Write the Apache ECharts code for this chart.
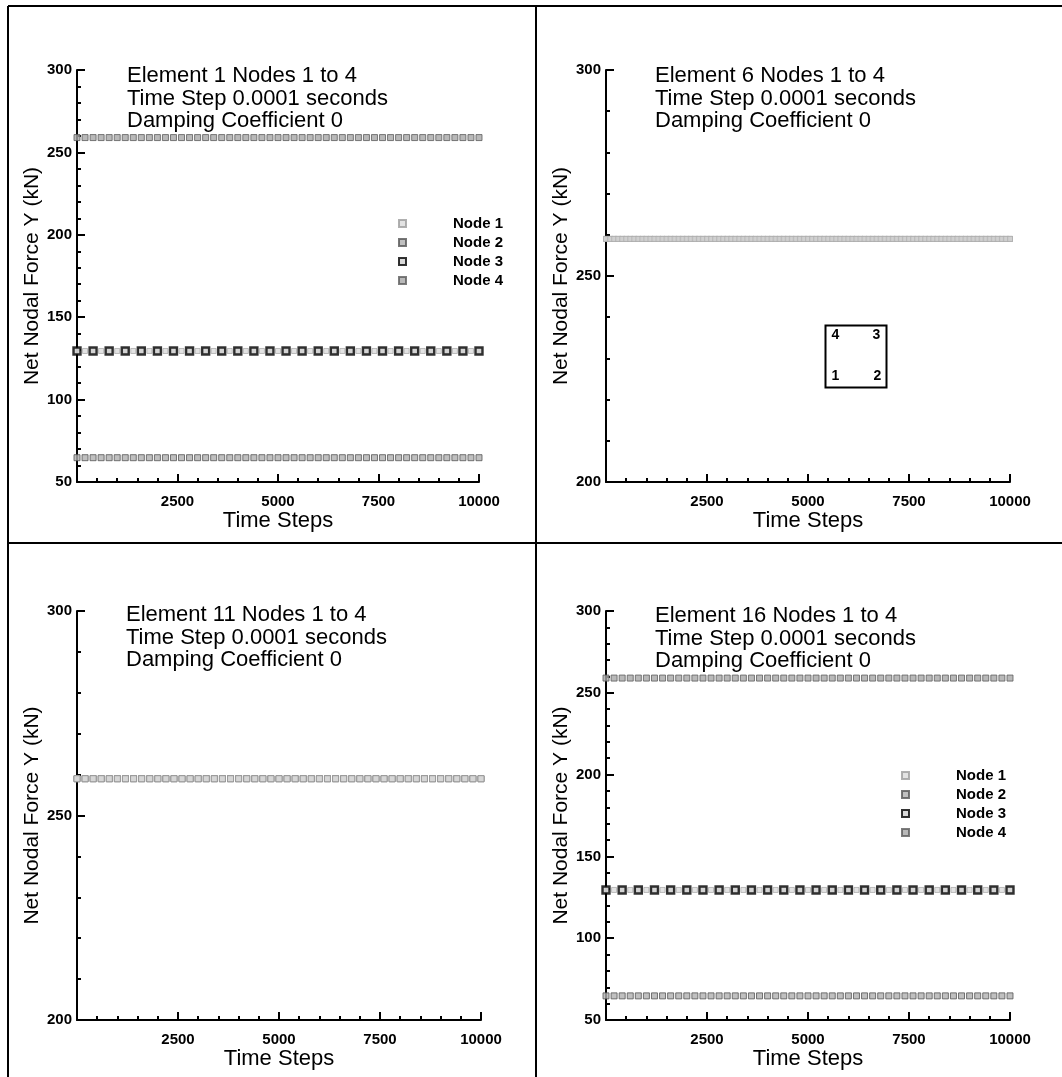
<!DOCTYPE html>
<html>
<head>
<meta charset="utf-8">
<title>Net Nodal Force Y</title>
<script src="https://cdn.jsdelivr.net/npm/echarts@6/dist/echarts.min.js"></script>
<style>
  html, body { margin: 0; padding: 0; background: #ffffff; }
  #chart { width: 1062px; height: 1077px; }
</style>
</head>
<body>
<div id="chart"></div>
<script>
// Sampled time steps
const timeSteps200 = [
  0, 200, 400, 600, 800, 1000, 1200, 1400, 1600, 1800,
  2000, 2200, 2400, 2600, 2800, 3000, 3200, 3400, 3600, 3800,
  4000, 4200, 4400, 4600, 4800, 5000, 5200, 5400, 5600, 5800,
  6000, 6200, 6400, 6600, 6800, 7000, 7200, 7400, 7600, 7800,
  8000, 8200, 8400, 8600, 8800, 9000, 9200, 9400, 9600, 9800,
  10000
];
const timeSteps400 = [
  0, 400, 800, 1200, 1600, 2000, 2400, 2800, 3200, 3600,
  4000, 4400, 4800, 5200, 5600, 6000, 6400, 6800, 7200, 7600,
  8000, 8400, 8800, 9200, 9600, 10000
];
const timeSteps100 = [
  0, 100, 200, 300, 400, 500, 600, 700, 800, 900,
  1000, 1100, 1200, 1300, 1400, 1500, 1600, 1700, 1800, 1900,
  2000, 2100, 2200, 2300, 2400, 2500, 2600, 2700, 2800, 2900,
  3000, 3100, 3200, 3300, 3400, 3500, 3600, 3700, 3800, 3900,
  4000, 4100, 4200, 4300, 4400, 4500, 4600, 4700, 4800, 4900,
  5000, 5100, 5200, 5300, 5400, 5500, 5600, 5700, 5800, 5900,
  6000, 6100, 6200, 6300, 6400, 6500, 6600, 6700, 6800, 6900,
  7000, 7100, 7200, 7300, 7400, 7500, 7600, 7700, 7800, 7900,
  8000, 8100, 8200, 8300, 8400, 8500, 8600, 8700, 8800, 8900,
  9000, 9100, 9200, 9300, 9400, 9500, 9600, 9700, 9800, 9900,
  10000
];

// Element 1, net nodal force Y (kN)
const element1Node1 = [
  129.5, 129.5, 129.5, 129.5, 129.5, 129.5, 129.5, 129.5, 129.5, 129.5,
  129.5, 129.5, 129.5, 129.5, 129.5, 129.5, 129.5, 129.5, 129.5, 129.5,
  129.5, 129.5, 129.5, 129.5, 129.5, 129.5, 129.5, 129.5, 129.5, 129.5,
  129.5, 129.5, 129.5, 129.5, 129.5, 129.5, 129.5, 129.5, 129.5, 129.5,
  129.5, 129.5, 129.5, 129.5, 129.5, 129.5, 129.5, 129.5, 129.5, 129.5,
  129.5
];
const element1Node2 = [
  64.75, 64.75, 64.75, 64.75, 64.75, 64.75, 64.75, 64.75, 64.75, 64.75,
  64.75, 64.75, 64.75, 64.75, 64.75, 64.75, 64.75, 64.75, 64.75, 64.75,
  64.75, 64.75, 64.75, 64.75, 64.75, 64.75, 64.75, 64.75, 64.75, 64.75,
  64.75, 64.75, 64.75, 64.75, 64.75, 64.75, 64.75, 64.75, 64.75, 64.75,
  64.75, 64.75, 64.75, 64.75, 64.75, 64.75, 64.75, 64.75, 64.75, 64.75,
  64.75
];
const element1Node3 = [
  129.5, 129.5, 129.5, 129.5, 129.5, 129.5, 129.5, 129.5, 129.5, 129.5,
  129.5, 129.5, 129.5, 129.5, 129.5, 129.5, 129.5, 129.5, 129.5, 129.5,
  129.5, 129.5, 129.5, 129.5, 129.5, 129.5
];
const element1Node4 = [
  259, 259, 259, 259, 259, 259, 259, 259, 259, 259,
  259, 259, 259, 259, 259, 259, 259, 259, 259, 259,
  259, 259, 259, 259, 259, 259, 259, 259, 259, 259,
  259, 259, 259, 259, 259, 259, 259, 259, 259, 259,
  259, 259, 259, 259, 259, 259, 259, 259, 259, 259,
  259
];

// Element 6 (interior), all four nodes
const element6Node1 = [
  259, 259, 259, 259, 259, 259, 259, 259, 259, 259,
  259, 259, 259, 259, 259, 259, 259, 259, 259, 259,
  259, 259, 259, 259, 259, 259, 259, 259, 259, 259,
  259, 259, 259, 259, 259, 259, 259, 259, 259, 259,
  259, 259, 259, 259, 259, 259, 259, 259, 259, 259,
  259, 259, 259, 259, 259, 259, 259, 259, 259, 259,
  259, 259, 259, 259, 259, 259, 259, 259, 259, 259,
  259, 259, 259, 259, 259, 259, 259, 259, 259, 259,
  259, 259, 259, 259, 259, 259, 259, 259, 259, 259,
  259, 259, 259, 259, 259, 259, 259, 259, 259, 259,
  259
];
const element6Node2 = [
  259, 259, 259, 259, 259, 259, 259, 259, 259, 259,
  259, 259, 259, 259, 259, 259, 259, 259, 259, 259,
  259, 259, 259, 259, 259, 259, 259, 259, 259, 259,
  259, 259, 259, 259, 259, 259, 259, 259, 259, 259,
  259, 259, 259, 259, 259, 259, 259, 259, 259, 259,
  259, 259, 259, 259, 259, 259, 259, 259, 259, 259,
  259, 259, 259, 259, 259, 259, 259, 259, 259, 259,
  259, 259, 259, 259, 259, 259, 259, 259, 259, 259,
  259, 259, 259, 259, 259, 259, 259, 259, 259, 259,
  259, 259, 259, 259, 259, 259, 259, 259, 259, 259,
  259
];
const element6Node3 = [
  259, 259, 259, 259, 259, 259, 259, 259, 259, 259,
  259, 259, 259, 259, 259, 259, 259, 259, 259, 259,
  259, 259, 259, 259, 259, 259, 259, 259, 259, 259,
  259, 259, 259, 259, 259, 259, 259, 259, 259, 259,
  259, 259, 259, 259, 259, 259, 259, 259, 259, 259,
  259, 259, 259, 259, 259, 259, 259, 259, 259, 259,
  259, 259, 259, 259, 259, 259, 259, 259, 259, 259,
  259, 259, 259, 259, 259, 259, 259, 259, 259, 259,
  259, 259, 259, 259, 259, 259, 259, 259, 259, 259,
  259, 259, 259, 259, 259, 259, 259, 259, 259, 259,
  259
];
const element6Node4 = [
  259, 259, 259, 259, 259, 259, 259, 259, 259, 259,
  259, 259, 259, 259, 259, 259, 259, 259, 259, 259,
  259, 259, 259, 259, 259, 259, 259, 259, 259, 259,
  259, 259, 259, 259, 259, 259, 259, 259, 259, 259,
  259, 259, 259, 259, 259, 259, 259, 259, 259, 259,
  259, 259, 259, 259, 259, 259, 259, 259, 259, 259,
  259, 259, 259, 259, 259, 259, 259, 259, 259, 259,
  259, 259, 259, 259, 259, 259, 259, 259, 259, 259,
  259, 259, 259, 259, 259, 259, 259, 259, 259, 259,
  259, 259, 259, 259, 259, 259, 259, 259, 259, 259,
  259
];

// Element 11 (interior), all four nodes
const element11Node1 = [
  259, 259, 259, 259, 259, 259, 259, 259, 259, 259,
  259, 259, 259, 259, 259, 259, 259, 259, 259, 259,
  259, 259, 259, 259, 259, 259, 259, 259, 259, 259,
  259, 259, 259, 259, 259, 259, 259, 259, 259, 259,
  259, 259, 259, 259, 259, 259, 259, 259, 259, 259,
  259
];
const element11Node2 = [
  259, 259, 259, 259, 259, 259, 259, 259, 259, 259,
  259, 259, 259, 259, 259, 259, 259, 259, 259, 259,
  259, 259, 259, 259, 259, 259, 259, 259, 259, 259,
  259, 259, 259, 259, 259, 259, 259, 259, 259, 259,
  259, 259, 259, 259, 259, 259, 259, 259, 259, 259,
  259
];
const element11Node3 = [
  259, 259, 259, 259, 259, 259, 259, 259, 259, 259,
  259, 259, 259, 259, 259, 259, 259, 259, 259, 259,
  259, 259, 259, 259, 259, 259, 259, 259, 259, 259,
  259, 259, 259, 259, 259, 259, 259, 259, 259, 259,
  259, 259, 259, 259, 259, 259, 259, 259, 259, 259,
  259
];
const element11Node4 = [
  259, 259, 259, 259, 259, 259, 259, 259, 259, 259,
  259, 259, 259, 259, 259, 259, 259, 259, 259, 259,
  259, 259, 259, 259, 259, 259, 259, 259, 259, 259,
  259, 259, 259, 259, 259, 259, 259, 259, 259, 259,
  259, 259, 259, 259, 259, 259, 259, 259, 259, 259,
  259
];

// Element 16 (corner), net nodal force Y (kN)
const element16Node1 = [
  129.5, 129.5, 129.5, 129.5, 129.5, 129.5, 129.5, 129.5, 129.5, 129.5,
  129.5, 129.5, 129.5, 129.5, 129.5, 129.5, 129.5, 129.5, 129.5, 129.5,
  129.5, 129.5, 129.5, 129.5, 129.5, 129.5, 129.5, 129.5, 129.5, 129.5,
  129.5, 129.5, 129.5, 129.5, 129.5, 129.5, 129.5, 129.5, 129.5, 129.5,
  129.5, 129.5, 129.5, 129.5, 129.5, 129.5, 129.5, 129.5, 129.5, 129.5,
  129.5
];
const element16Node2 = [
  64.75, 64.75, 64.75, 64.75, 64.75, 64.75, 64.75, 64.75, 64.75, 64.75,
  64.75, 64.75, 64.75, 64.75, 64.75, 64.75, 64.75, 64.75, 64.75, 64.75,
  64.75, 64.75, 64.75, 64.75, 64.75, 64.75, 64.75, 64.75, 64.75, 64.75,
  64.75, 64.75, 64.75, 64.75, 64.75, 64.75, 64.75, 64.75, 64.75, 64.75,
  64.75, 64.75, 64.75, 64.75, 64.75, 64.75, 64.75, 64.75, 64.75, 64.75,
  64.75
];
const element16Node3 = [
  129.5, 129.5, 129.5, 129.5, 129.5, 129.5, 129.5, 129.5, 129.5, 129.5,
  129.5, 129.5, 129.5, 129.5, 129.5, 129.5, 129.5, 129.5, 129.5, 129.5,
  129.5, 129.5, 129.5, 129.5, 129.5, 129.5
];
const element16Node4 = [
  259, 259, 259, 259, 259, 259, 259, 259, 259, 259,
  259, 259, 259, 259, 259, 259, 259, 259, 259, 259,
  259, 259, 259, 259, 259, 259, 259, 259, 259, 259,
  259, 259, 259, 259, 259, 259, 259, 259, 259, 259,
  259, 259, 259, 259, 259, 259, 259, 259, 259, 259,
  259
];

const nodeNames = ['Node 1', 'Node 2', 'Node 3', 'Node 4'];
const xTicks = [0, 2500, 5000, 7500, 10000];
const yTicksWide = [50, 100, 150, 200, 250, 300];
const yTicksNarrow = [200, 250, 300];

const panelTitles = [
  'Element 1 Nodes 1 to 4\nTime Step 0.0001 seconds\nDamping Coefficient 0',
  'Element 6 Nodes 1 to 4\nTime Step 0.0001 seconds\nDamping Coefficient 0',
  'Element 11 Nodes 1 to 4\nTime Step 0.0001 seconds\nDamping Coefficient 0',
  'Element 16 Nodes 1 to 4\nTime Step 0.0001 seconds\nDamping Coefficient 0'
];

// ---- styling ----
const FONT = "'Liberation Sans', Arial, sans-serif";
const INK = '#000000';

const markerStyles = {
  n1: { symbol: 'rect', symbolSize: 5, itemStyle: { color: '#dcdcdc', borderColor: '#9c9c9c', borderWidth: 0.8 } },
  n2: { symbol: 'rect', symbolSize: 6, itemStyle: { color: '#b0b0b0', borderColor: '#555555', borderWidth: 1 } },
  n3: { symbol: 'rect', symbolSize: 7, itemStyle: { color: '#d0d0d0', borderColor: '#000000', borderWidth: 2.4 } },
  n4: { symbol: 'rect', symbolSize: 6, itemStyle: { color: '#a8a8a8', borderColor: '#5c5c5c', borderWidth: 1 } },
  dense: { symbol: 'rect', symbolSize: 5, itemStyle: { color: '#cfcfcf', borderColor: '#a6a6a6', borderWidth: 0.6 } },
  light: { symbol: 'rect', symbolSize: 6, itemStyle: { color: '#d6d6d6', borderColor: '#8e8e8e', borderWidth: 0.8 } }
};

function pairs(steps, values) {
  return steps.map((t, i) => [t, values[i]]);
}

function scatter(name, gridIndex, steps, values, style) {
  return Object.assign({
    type: 'scatter',
    name: name,
    xAxisIndex: gridIndex,
    yAxisIndex: gridIndex,
    data: pairs(steps, values),
    silent: true
  }, style);
}

const grids = [
  { left: 77, top: 70, width: 402, height: 412 },
  { left: 606, top: 70, width: 404, height: 412 },
  { left: 77, top: 611, width: 404, height: 409 },
  { left: 606, top: 611, width: 404, height: 409 }
];

function xAxisFor(gridIndex) {
  return {
    type: 'value',
    gridIndex: gridIndex,
    min: xTicks[0],
    max: xTicks[xTicks.length - 1],
    interval: xTicks[1] - xTicks[0],
    name: 'Time Steps',
    nameLocation: 'middle',
    nameGap: 26,
    nameTextStyle: { fontFamily: FONT, fontSize: 22, color: INK, verticalAlign: 'top' },
    axisLine: { show: true, onZero: false, lineStyle: { color: INK, width: 2 } },
    axisTick: { show: true, inside: true, length: 8, lineStyle: { color: INK, width: 2 } },
    minorTick: { show: true, splitNumber: 5, length: 4, lineStyle: { color: INK, width: 2 } },
    axisLabel: {
      showMinLabel: false, margin: 12, fontFamily: FONT, fontSize: 15, fontWeight: 'bold', color: INK,
      formatter: v => String(v)
    },
    splitLine: { show: false }
  };
}

function yAxisFor(gridIndex, ticks) {
  return {
    type: 'value',
    gridIndex: gridIndex,
    min: ticks[0],
    max: ticks[ticks.length - 1],
    interval: ticks[1] - ticks[0],
    name: 'Net Nodal Force Y (kN)',
    nameLocation: 'middle',
    nameRotate: 90,
    nameGap: 32,
    nameTextStyle: { fontFamily: FONT, fontSize: 21, color: INK },
    axisLine: { show: true, onZero: false, lineStyle: { color: INK, width: 2 } },
    axisTick: { show: true, inside: true, length: 8, lineStyle: { color: INK, width: 2 } },
    minorTick: { show: true, splitNumber: 5, length: 4, lineStyle: { color: INK, width: 2 } },
    axisLabel: {
      margin: 5, fontFamily: FONT, fontSize: 15, fontWeight: 'bold', color: INK,
      formatter: v => String(v)
    },
    splitLine: { show: false }
  };
}

const titlePos = [
  { left: 122, top: 60 },
  { left: 650, top: 60 },
  { left: 121, top: 599 },
  { left: 650, top: 600 }
];

function legendAt(left, top) {
  return {
    orient: 'vertical',
    left: left,
    top: top,
    padding: 0,
    itemGap: 4,
    itemWidth: 7,
    itemHeight: 7,
    selectedMode: false,
    data: nodeNames.map(n => ({ name: n, icon: 'rect' })),
    textStyle: { fontFamily: FONT, fontSize: 15, fontWeight: 'bold', color: INK, lineHeight: 15, padding: [0, 0, 0, 42] }
  };
}

const series = [
  // Element 1
  scatter(nodeNames[0], 0, timeSteps200, element1Node1, markerStyles.n1),
  scatter(nodeNames[1], 0, timeSteps200, element1Node2, markerStyles.n2),
  scatter(nodeNames[2], 0, timeSteps400, element1Node3, markerStyles.n3),
  scatter(nodeNames[3], 0, timeSteps200, element1Node4, markerStyles.n4),
  // Element 6
  scatter(nodeNames[0], 1, timeSteps100, element6Node1, markerStyles.dense),
  scatter(nodeNames[1], 1, timeSteps100, element6Node2, markerStyles.dense),
  scatter(nodeNames[2], 1, timeSteps100, element6Node3, markerStyles.dense),
  scatter(nodeNames[3], 1, timeSteps100, element6Node4, markerStyles.dense),
  // Element 11
  scatter(nodeNames[0], 2, timeSteps200, element11Node1, markerStyles.light),
  scatter(nodeNames[1], 2, timeSteps200, element11Node2, markerStyles.light),
  scatter(nodeNames[2], 2, timeSteps200, element11Node3, markerStyles.light),
  scatter(nodeNames[3], 2, timeSteps200, element11Node4, markerStyles.light),
  // Element 16
  scatter(nodeNames[0], 3, timeSteps200, element16Node1, markerStyles.n1),
  scatter(nodeNames[1], 3, timeSteps200, element16Node2, markerStyles.n2),
  scatter(nodeNames[2], 3, timeSteps400, element16Node3, markerStyles.n3),
  scatter(nodeNames[3], 3, timeSteps200, element16Node4, markerStyles.n4)
];

// frame lines and the element node-numbering sketch
const frameLines = [
  [8, 6, 1062, 6],
  [8, 6, 8, 1077],
  [536, 6, 536, 1077],
  [8, 543, 1062, 543]
].map(p => ({
  type: 'line',
  shape: { x1: p[0], y1: p[1], x2: p[2], y2: p[3] },
  style: { stroke: INK, lineWidth: 2 },
  silent: true
}));

const nodeSketch = {
  type: 'group',
  left: 823,
  top: 323,
  children: [
    { type: 'rect', shape: { x: 0, y: 0, width: 61, height: 62 }, style: { fill: null, stroke: INK, lineWidth: 2 } },
    { type: 'text', x: 10, y: 10, style: { text: '4', font: "bold 14px " + FONT, fill: INK, textAlign: 'center', textVerticalAlign: 'middle' } },
    { type: 'text', x: 51, y: 10, style: { text: '3', font: "bold 14px " + FONT, fill: INK, textAlign: 'center', textVerticalAlign: 'middle' } },
    { type: 'text', x: 10, y: 51, style: { text: '1', font: "bold 14px " + FONT, fill: INK, textAlign: 'center', textVerticalAlign: 'middle' } },
    { type: 'text', x: 52, y: 51, style: { text: '2', font: "bold 14px " + FONT, fill: INK, textAlign: 'center', textVerticalAlign: 'middle' } }
  ]
};

const chart = echarts.init(document.getElementById('chart'), null, { renderer: 'canvas' });
chart.setOption({
  backgroundColor: '#ffffff',
  animation: false,
  title: panelTitles.map((t, i) => ({
    text: t,
    left: titlePos[i].left,
    top: titlePos[i].top,
    textStyle: { fontFamily: FONT, fontSize: 22, fontWeight: 'normal', color: INK, lineHeight: 22.5 }
  })),
  legend: [legendAt(398, 216), legendAt(901, 768)],
  grid: grids,
  xAxis: [xAxisFor(0), xAxisFor(1), xAxisFor(2), xAxisFor(3)],
  yAxis: [yAxisFor(0, yTicksWide), yAxisFor(1, yTicksNarrow), yAxisFor(2, yTicksNarrow), yAxisFor(3, yTicksWide)],
  series: series,
  graphic: frameLines.concat([nodeSketch])
});
</script>
</body>
</html>
